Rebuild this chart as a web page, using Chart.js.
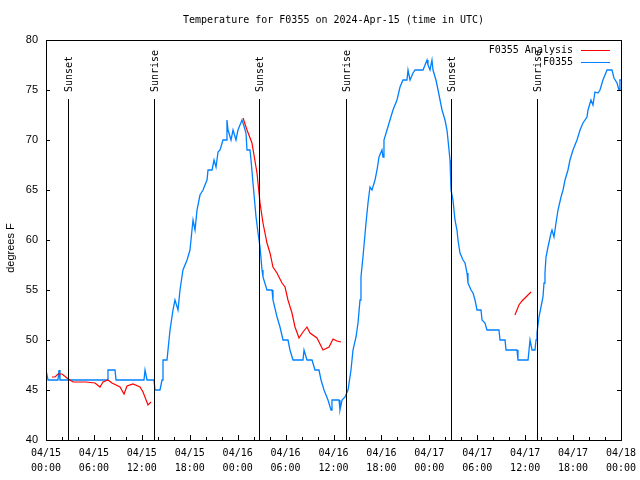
<!DOCTYPE html>
<html>
<head>
<meta charset="utf-8">
<script src="https://cdn.jsdelivr.net/npm/chart.js@4.4.1/dist/chart.umd.min.js"></script>
<style>
  html, body { margin: 0; padding: 0; background: #fff; }
  #wrap { width: 640px; height: 480px; }
</style>
</head>
<body>
<div id="wrap"><canvas id="tempChart"></canvas></div>
<script>
// hours since 2024-04-15 00:00 UTC
const obsHours = [0,0.25,1.5,1.63,1.75,7.64,7.76,8.64,8.77,12.27,12.4,12.65,13.52,13.65,14.27,14.53,14.65,15.15,15.53,15.9,
  16.15,16.53,16.78,17.15,17.66,18.03,18.28,18.41,18.66,18.91,19.28,19.66,20.16,20.29,20.79,21.04,21.29,21.54,21.79,22.16,
  22.54,22.66,22.79,23.17,23.42,23.79,24.04,24.54,24.67,25.04,25.17,25.54,25.67,25.92,26.3,26.55,26.8,27.05,27.17,27.67,
  28.3,28.42,28.93,29.3,29.68,30.3,30.55,30.93,32.18,32.31,32.68,33.31,33.68,34.18,34.44,34.81,35.31,35.69,35.81,36.69,
  36.81,37.07,37.44,37.82,38.19,38.44,38.82,39.07,39.32,39.44,39.69,40.07,40.32,40.57,40.82,41.2,41.45,41.7,42.07,42.2,
  42.32,42.7,43.07,43.45,43.95,44.33,44.7,45.2,45.33,45.58,45.96,46.21,47.21,47.71,47.83,48.08,48.33,48.46,48.83,49.09,
  49.59,49.96,50.21,50.34,50.59,50.71,50.96,51.21,51.46,51.59,51.84,52.22,52.47,52.72,52.84,53.22,53.47,53.72,53.97,54.47,
  54.6,54.97,55.22,56.72,56.85,57.48,57.6,58.98,59.1,60.36,60.61,60.86,61.23,61.36,61.48,61.73,61.98,62.23,62.36,62.48,
  62.61,62.86,63.24,63.36,63.61,63.86,64.11,64.49,64.74,64.99,65.36,65.61,65.99,66.49,66.87,67.24,67.74,67.87,68.24,68.49,
  68.74,69.12,69.37,69.74,70.25,70.87,71.12,71.5,71.75,71.87,72];
const obsTemps = [47,46,46,47,46,46,47,47,46,46,47,46,46,45,45,46,48,48,51,53,
  54,53,55,57,58,59,61,62,61,63,64.5,65,66,67,67,68,67.3,68.8,69,70,
  70,72,71,70,71,70,71,72,71.7,70.7,69,69,68,65.7,62.3,60.7,59.3,57,56.3,55,
  55,54,52.3,51.3,50,50,49,48,48,49,48,48,47,47,46,45,44,43,44,44,
  43,44,44.3,45,47,49,50.3,51.7,54,56.3,58.3,61.7,63.7,65.3,65,66,67,68.3,69,68.3,
  70,71,72,73,74,75.3,76,76,77,76,76.7,77,77,78,77.5,77,78,77,76,75,
  73,72,71,70,68,65,64,62,61,60,58.7,58,57.7,56.7,55.7,55,54.7,54,53,53,
  52,51.7,51,51,50,50,49,49,48,48,50,49,49,50,50.7,52.3,53.3,54.3,55.7,56.7,
  58.3,59.3,60.7,61,60.3,61.7,63,64.3,65,66,67,68,69,70,71,71.7,72.3,73,74,73.5,
  74.8,74.7,75,76,77,77,76.2,75.7,75,76,76];

// analysis series, null = gap
const anaHours = [0.75,1.13,1.5,2.0,2.63,3.38,5.0,6.14,6.76,7.14,7.76,8.26,9.27,9.77,10.14,10.89,11.77,12.15,12.77,13.15,
  18,
  24.67,25.17,25.79,26.42,26.8,27.17,27.67,28.05,28.42,28.92,29.55,29.93,30.3,30.8,31.18,31.68,32.18,32.68,33.06,33.93,
  34.69,35.44,35.94,36.44,36.94,
  45,
  58.72,59.22,59.6,60.1,60.73];
const anaTemps = [46.3,46.3,46.6,46.6,46.2,45.8,45.8,45.7,45.3,45.8,46.0,45.7,45.3,44.6,45.4,45.6,45.3,44.8,43.5,43.8,
  null,
  72.2,71,69.7,66.7,63.7,61.7,59.7,58.7,57.3,56.7,55.7,55.3,54,52.7,51.3,50.2,50.8,51.3,50.7,50.2,
  49,49.3,50.1,49.9,49.8,
  null,
  52.5,53.5,53.9,54.3,54.8];

const sunHours = [2.75, 13.52, 26.67, 37.57, 50.71, 61.48];
const sunLabels = ['Sunset', 'Sunrise', 'Sunset', 'Sunrise', 'Sunset', 'Sunrise'];

const yTicks = [40, 45, 50, 55, 60, 65, 70, 75, 80];
const dayLabels = ['04/15', '04/16', '04/17', '04/18'];

const mono = '"DejaVu Sans Mono", monospace';
const sans = '"Liberation Sans", Arial, sans-serif';

function pad2(n) { return (n < 10 ? '0' : '') + n; }

// frame, inward ticks, sunrise/sunset lines, title, legend
const decor = {
  id: 'decor',
  afterDatasetsDraw(chart) {
    const c = chart.ctx, a = chart.chartArea;
    const xs = chart.scales.x, ys = chart.scales.y;
    c.save();
    c.strokeStyle = '#000';
    c.lineWidth = 1;
    // sun lines
    sunHours.forEach((h, i) => {
      const x = Math.round(xs.getPixelForValue(h)) + 0.5;
      c.beginPath();
      c.moveTo(x, 99);
      c.lineTo(x, a.bottom);
      c.stroke();
      c.save();
      c.translate(x + 1, 92);
      c.rotate(-Math.PI / 2);
      c.font = '10px ' + mono;
      c.fillStyle = '#000';
      c.textAlign = 'left';
      c.textBaseline = 'middle';
      c.fillText(sunLabels[i], 0, 0);
      c.restore();
    });
    // frame
    c.strokeRect(Math.round(a.left) + 0.5, Math.round(a.top) + 0.5,
      Math.round(a.right - a.left), Math.round(a.bottom - a.top));
    // y ticks both sides
    yTicks.forEach(v => {
      const y = Math.round(ys.getPixelForValue(v)) + 0.5;
      c.beginPath();
      c.moveTo(a.left, y); c.lineTo(a.left + 4, y);
      c.moveTo(a.right, y); c.lineTo(a.right - 4, y);
      c.stroke();
    });
    // x ticks every 2h, longer every 6h
    for (let h = 2; h < 72; h += 2) {
      const x = Math.round(xs.getPixelForValue(h)) + 0.5;
      const len = h % 6 === 0 ? 5 : 3;
      c.beginPath();
      c.moveTo(x, a.bottom); c.lineTo(x, a.bottom - len);
      c.stroke();
    }
    // title
    c.fillStyle = '#000';
    c.font = '10px ' + mono;
    c.textAlign = 'center';
    c.textBaseline = 'middle';
    c.fillText('Temperature for F0355 on 2024-Apr-15 (time in UTC)', (a.left + a.right) / 2, 20);
    // y title
    c.save();
    c.translate(11, 248);
    c.rotate(-Math.PI / 2);
    c.font = '11px ' + sans;
    c.fillText('degrees F', 0, 0);
    c.restore();
    // legend
    c.font = '10px ' + mono;
    c.textAlign = 'right';
    const leg = [['F0355 Analysis', '#ff0000', 50], ['F0355', '#0080ff', 62]];
    leg.forEach(([txt, col, y]) => {
      c.fillStyle = '#000';
      c.fillText(txt, 573, y);
      c.strokeStyle = col;
      c.beginPath();
      c.moveTo(581, y + 0.5); c.lineTo(610, y + 0.5);
      c.stroke();
    });
    c.restore();
  }
};

const ctx = document.getElementById('tempChart');
const tempChart = new Chart(ctx, {
  type: 'line',
  data: {
    datasets: [
      {
        label: 'F0355',
        data: obsHours.map((h, i) => ({ x: h, y: obsTemps[i] })),
        borderColor: '#0080ff',
        borderWidth: 1.3,
        pointRadius: 0,
        tension: 0,
        order: 2
      },
      {
        label: 'F0355 Analysis',
        data: anaHours.map((h, i) => ({ x: h, y: anaTemps[i] })),
        borderColor: '#ff0000',
        borderWidth: 1.2,
        pointRadius: 0,
        tension: 0,
        spanGaps: false,
        order: 1
      }
    ]
  },
  options: {
    responsive: true,
    maintainAspectRatio: false,
    animation: false,
    events: [],
    layout: { padding: { top: 40, right: 19, left: 0, bottom: 0 } },
    plugins: {
      legend: { display: false },
      title: { display: false },
      tooltip: { enabled: false }
    },
    scales: {
      x: {
        type: 'linear',
        min: 0,
        max: 72,
        grid: { display: false, drawTicks: false },
        border: { display: false },
        afterFit: s => { s.height = 40; s.paddingLeft = 0; s.paddingRight = 0; },
        afterBuildTicks: s => {
          s.ticks = [];
          for (let h = 0; h <= 72; h += 6) s.ticks.push({ value: h });
        },
        ticks: {
          autoSkip: false,
          maxRotation: 0,
          padding: 6,
          color: '#000',
          font: { family: mono, size: 10, lineHeight: 1.5 },
          callback: v => [dayLabels[Math.floor(v / 24)], pad2(v % 24) + ':00']
        }
      },
      y: {
        min: 40,
        max: 80,
        grid: { display: false, drawTicks: false },
        border: { display: false },
        afterFit: s => { s.width = 46; s.paddingTop = 0; s.paddingBottom = 0; },
        ticks: {
          stepSize: 5,
          padding: 8,
          color: '#000',
          font: { family: sans, size: 11 }
        }
      }
    }
  },
  plugins: [decor]
});
</script>
</body>
</html>
